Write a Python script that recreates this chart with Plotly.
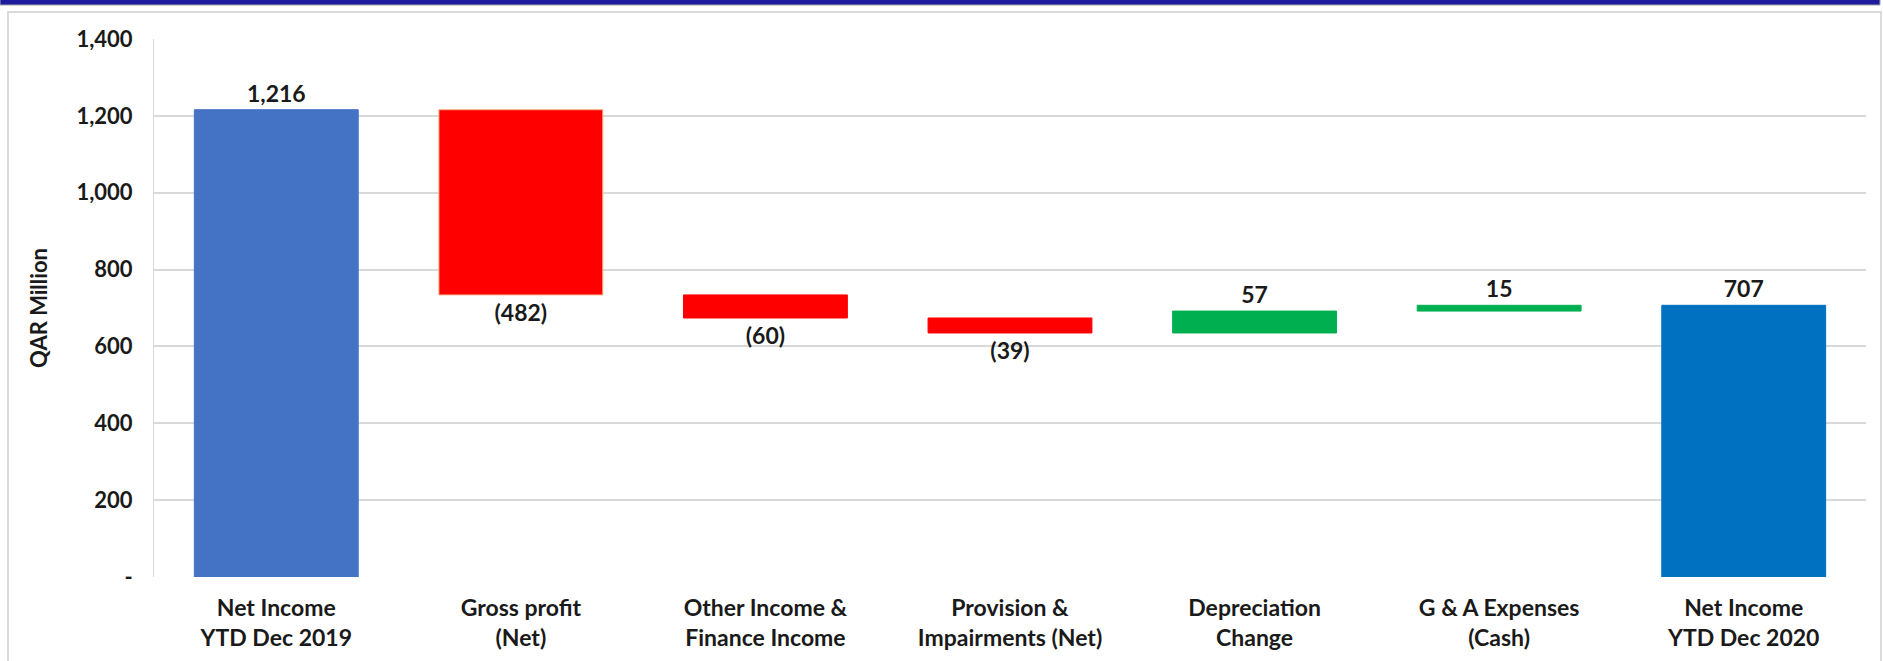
import plotly.graph_objects as go

categories = [
    "Net Income<br>YTD Dec 2019",
    "Gross profit<br>(Net)",
    "Other Income &<br>Finance Income",
    "Provision &<br>Impairments (Net)",
    "Depreciation<br>Change",
    "G & A Expenses<br>(Cash)",
    "Net Income<br>YTD Dec 2020",
]
values = [1216, -482, -60, -39, 57, 15, 707]
kinds = ["total", "delta", "delta", "delta", "delta", "delta", "total"]
tick_vals = [0, 200, 400, 600, 800, 1000, 1200, 1400]
tick_text = ["-", "200", "400", "600", "800", "1,000", "1,200", "1,400"]

COL_START = "#4472C4"
COL_END = "#0070C0"
COL_NEG = "#FF0000"
COL_POS = "#00B050"

# Build waterfall geometry from data
bases, heights, colors, texts, lines = [], [], [], [], []
running = 0
for i, (v, k) in enumerate(zip(values, kinds)):
    if k == "total":
        bases.append(0)
        heights.append(v)
        running = v
        colors.append(COL_START if i == 0 else COL_END)
        texts.append(f"{v:,}")
        lines.append(COL_START if i == 0 else COL_END)
    else:
        bases.append(running)
        heights.append(v)
        running += v
        colors.append(COL_NEG if v < 0 else COL_POS)
        texts.append(f"({abs(v):,})" if v < 0 else f"{v:,}")
        lines.append("#F4B183" if v < -100 else (COL_NEG if v < 0 else COL_POS))

W, H = 1883, 661
ML, MR, MT, MB = 154, 17, 39, 84
PW, PH = W - ML - MR, H - MT - MB

def px_x(p):
    return (p - ML) / PW

def px_y(p):
    return (H - MB - p) / PH

fig = go.Figure()
fig.add_trace(go.Bar(
    x=categories,
    y=heights,
    base=bases,
    marker=dict(color=colors, line=dict(color=lines, width=1)),
    text=[f"<b>{t}</b>" for t in texts],
    texttemplate="%{text}",
    textposition="outside",
    textfont=dict(family="Lato", size=23, color="#1a1a1a"),
    cliponaxis=False,
    width=0.67,
    hoverinfo="skip",
))

fig.update_layout(
    width=W, height=H,
    margin=dict(l=ML, r=MR, t=MT, b=MB),
    paper_bgcolor="white",
    plot_bgcolor="white",
    showlegend=False,
    font=dict(family="Lato", color="#1a1a1a"),
    xaxis=dict(
        showgrid=False,
        automargin=False,
        tickmode="array",
        tickvals=categories,
        ticktext=[f"<b>{c.replace('<br>', '</b><br><b>')}</b>" for c in categories],
        tickfont=dict(family="Lato", size=23, color="#1a1a1a"),
        ticks="",
        ticklabelstandoff=15,
        fixedrange=True,
    ),
    yaxis=dict(
        range=[0, 1400],
        automargin=False,
        tickmode="array",
        tickvals=tick_vals,
        ticktext=[f"<b>{t}</b>" for t in tick_text],
        showgrid=True,
        gridcolor="#D9D9D9",
        gridwidth=1.5,
        showline=True,
        linecolor="#D9D9D9",
        linewidth=1,
        zeroline=False,
        tickfont=dict(family="Lato", size=22, color="#1a1a1a"),
        ticklabelstandoff=16,
        title=dict(text="<b>QAR Million</b>", font=dict(family="Lato", size=22, color="#1a1a1a"), standoff=22),
    ),
    shapes=[
        dict(type="rect", xref="paper", yref="paper",
             x0=px_x(8), x1=px_x(1881), y0=px_y(700), y1=px_y(12),
             line=dict(color="#D0D0D0", width=1.5), fillcolor="rgba(0,0,0,0)", layer="below"),
        dict(type="rect", xref="paper", yref="paper",
             x0=px_x(0), x1=px_x(1880), y0=px_y(5), y1=px_y(-2),
             line=dict(color="#A0A0A0", width=1), fillcolor="#1C1C9C", layer="above"),
    ],
)

fig.write_html("out.html")
